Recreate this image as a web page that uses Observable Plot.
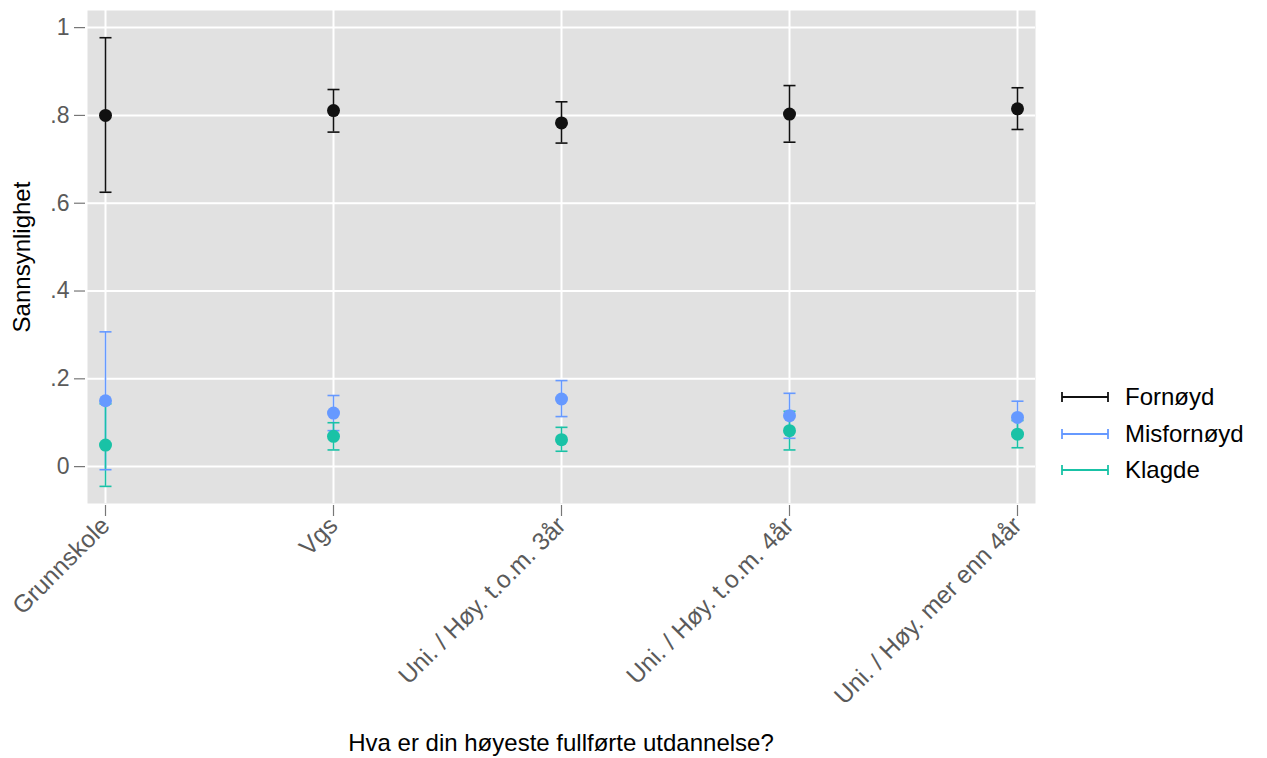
<!DOCTYPE html>
<html>
<head>
<meta charset="utf-8">
<script src="https://cdn.jsdelivr.net/npm/d3@7"></script>
<script src="https://cdn.jsdelivr.net/npm/@observablehq/plot@0.6"></script>
<style>
  body { margin: 0; background: #fff; font-family: "Liberation Sans", Arial, sans-serif; }
  #wrap { position: relative; width: 1267px; height: 758px; }
  #chart { position: absolute; left: 0; top: 0; }
  .ytitle { position: absolute; left: 22px; top: 257px; transform: translate(-50%, -50%) rotate(-90deg); font-size: 24px; color: #000; white-space: nowrap; }
  .xtitle { position: absolute; left: 561px; top: 729px; transform: translateX(-50%); font-size: 24px; color: #000; white-space: nowrap; }
  .legend { position: absolute; left: 1060px; top: 379px; font-size: 24px; color: #000; }
  .legend .row { display: flex; align-items: center; height: 36.5px; }
  .legend svg { margin-right: 15px; }
</style>
</head>
<body>
<div id="wrap">
  <div id="chart"></div>
  <div class="ytitle">Sannsynlighet</div>
  <div class="xtitle">Hva er din høyeste fullførte utdannelse?</div>
  <div class="legend" id="legend"></div>
</div>
<script>
const categories = ["Grunnskole", "Vgs", "Uni. / Høy. t.o.m. 3år", "Uni. / Høy. t.o.m. 4år", "Uni. / Høy. mer enn 4år"];
const seriesNames = ["Fornøyd", "Misfornøyd", "Klagde"];
const seriesColors = ["#111111", "#6699ff", "#19c2a6"];

const fornoyd    = [0.800, 0.811, 0.783, 0.803, 0.815];
const fornoydLo  = [0.625, 0.762, 0.737, 0.739, 0.768];
const fornoydHi  = [0.977, 0.859, 0.831, 0.868, 0.863];

const misfornoyd   = [0.150, 0.122, 0.154, 0.116, 0.112];
const misfornoydLo = [-0.007, 0.082, 0.114, 0.0645, 0.075];
const misfornoydHi = [0.307, 0.162, 0.196, 0.167, 0.149];

const klagde   = [0.049, 0.069, 0.0615, 0.082, 0.074];
const klagdeLo = [-0.045, 0.038, 0.035, 0.038, 0.043];
const klagdeHi = [0.143, 0.100, 0.0895, 0.126, 0.105];

const yTicks = [0, 0.2, 0.4, 0.6, 0.8, 1];

const seriesData = [
  [fornoyd, fornoydLo, fornoydHi],
  [misfornoyd, misfornoydLo, misfornoydHi],
  [klagde, klagdeLo, klagdeHi]
];
const rows = [];
seriesNames.forEach((s, si) => {
  categories.forEach((c, ci) => {
    rows.push({series: s, cat: c, v: seriesData[si][0][ci], lo: seriesData[si][1][ci], hi: seriesData[si][2][ci]});
  });
});

const cap = { draw(ctx, size) { ctx.moveTo(-6, 0); ctx.lineTo(6, 0); } };
const color = {domain: seriesNames, range: seriesColors};
const fmt = d => d === 0 ? "0" : d === 1 ? "1" : d3.format(".1f")(d).replace(/^0/, "");

const plot = Plot.plot({
  width: 1267,
  height: 758,
  marginLeft: 87,
  marginRight: 232,
  marginTop: 10,
  marginBottom: 255,
  style: { fontFamily: "Liberation Sans, Arial, sans-serif", background: "transparent" },
  x: { type: "point", domain: categories, padding: 0, inset: 17.5 },
  y: { domain: [-0.084, 1.039] },
  color,
  marks: [
    Plot.frame({ fill: "#e1e1e1", stroke: null }),
    Plot.gridY(yTicks, { stroke: "#fff", strokeOpacity: 1, strokeWidth: 2 }),
    Plot.gridX(categories, { stroke: "#fff", strokeOpacity: 1, strokeWidth: 2 }),
    Plot.axisY(yTicks, { tickFormat: fmt, tickSize: 11, tickPadding: 5, fontSize: 23, fill: "#5a5a5a", stroke: "#777", strokeWidth: 1.2, label: null, dx: -2 }),
    Plot.axisX(categories, { tickRotate: -45, tickSize: 11, tickPadding: 5, fontSize: 24.5, fill: "#5a5a5a", stroke: "#777", strokeWidth: 1.2, label: null, dy: 2 }),
    Plot.ruleX(rows, { x: "cat", y1: "lo", y2: "hi", stroke: "series", strokeWidth: 1.6 }),
    Plot.dot(rows, { x: "cat", y: "lo", symbol: cap, stroke: "series", strokeWidth: 1.6 }),
    Plot.dot(rows, { x: "cat", y: "hi", symbol: cap, stroke: "series", strokeWidth: 1.6 }),
    Plot.dot(rows, { x: "cat", y: "v", fill: "series", r: 6.5 })
  ]
});
document.getElementById("chart").appendChild(plot);

const leg = document.getElementById("legend");
seriesNames.forEach((s, i) => {
  const row = document.createElement("div");
  row.className = "row";
  const c = seriesColors[i];
  row.innerHTML = `<svg width="50" height="14"><line x1="2" y1="7" x2="48" y2="7" stroke="${c}" stroke-width="1.8"/><line x1="2" y1="2" x2="2" y2="12" stroke="${c}" stroke-width="1.8"/><line x1="48" y1="2" x2="48" y2="12" stroke="${c}" stroke-width="1.8"/></svg><span>${s}</span>`;
  leg.appendChild(row);
});
</script>
</body>
</html>
